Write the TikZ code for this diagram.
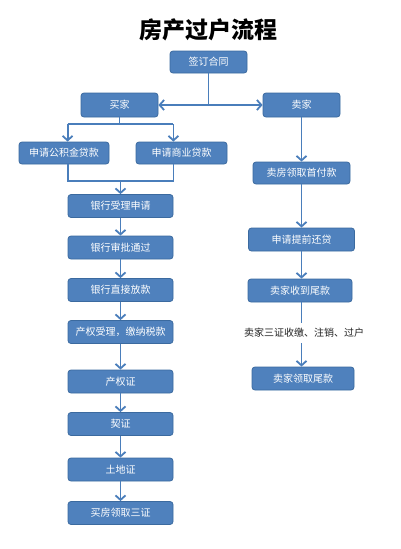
\documentclass[tikz,border=0pt]{standalone}
\usepackage{fontspec}
\newfontfamily\cjk{Noto Sans CJK SC}
\usetikzlibrary{arrows.meta}
\definecolor{boxfill}{HTML}{4F81BD}
\definecolor{boxborder}{HTML}{3B6A9F}
\definecolor{linecol}{HTML}{4A7EBB}
\definecolor{txtdark}{HTML}{222222}
\tikzset{
  flowbox/.style={draw=boxborder, fill=boxfill, rounded corners=3pt, text=white,
    font=\cjk\fontsize{10}{12}\selectfont, minimum height=23pt, inner sep=0pt, line width=0.8pt},
  conn/.style={draw=linecol, line width=1.8pt},
  arr/.style={conn, -{Straight Barb[length=4.5pt,width=10pt]}},
  darr/.style={conn, {Straight Barb[length=4.5pt,width=10pt]}-{Straight Barb[length=4.5pt,width=10pt]}},
}
\begin{document}
\begin{tikzpicture}[x=1pt,y=-1pt]
\useasboundingbox (0,0) rectangle (400,549);
\fill[white] (0,0) rectangle (400,549);

\node[font=\cjk\bfseries\fontsize{23}{26}\selectfont, text=black] (title) at (208,30) {房产过户流程};

\node[flowbox, minimum width=77pt, minimum height=22pt] (sign) at (208.5,62) {签订合同};
\node[flowbox, minimum width=77pt, minimum height=24pt] (buyer) at (119.5,105) {买家};
\node[flowbox, minimum width=77pt, minimum height=24pt] (seller) at (301.5,105) {卖家};

\node[flowbox, minimum width=90pt, minimum height=22pt] (gjj) at (64,153) {申请公积金贷款};
\node[flowbox, minimum width=91pt, minimum height=22pt] (sy) at (181.5,153) {申请商业贷款};

\node[flowbox, minimum width=105pt] (b1) at (120.5,206) {银行受理申请};
\node[flowbox, minimum width=105pt] (b2) at (120.5,247.5) {银行审批通过};
\node[flowbox, minimum width=105pt] (b3) at (120.5,290) {银行直接放款};
\node[flowbox, minimum width=105pt] (b4) at (120.5,332) {产权受理，缴纳税款};
\node[flowbox, minimum width=105pt] (b5) at (120.5,381.5) {产权证};
\node[flowbox, minimum width=105pt] (b6) at (120.5,424) {契证};
\node[flowbox, minimum width=105pt] (b7) at (120.5,469.5) {土地证};
\node[flowbox, minimum width=105pt] (b8) at (120.5,513) {买房领取三证};

\node[flowbox, minimum width=97pt, minimum height=22pt] (s1) at (301.5,173) {卖房领取首付款};
\node[flowbox, minimum width=106pt] (s2) at (301.5,239.5) {申请提前还贷};
\node[flowbox, minimum width=104pt] (s3) at (300,290.5) {卖家收到尾款};
\node[font=\cjk\fontsize{10}{12}\selectfont, text=txtdark, minimum height=20pt, inner sep=0pt] (note) at (304,333) {卖家三证收缴、注销、过户};
\node[flowbox, minimum width=102pt] (s4) at (303,378.5) {卖家领取尾款};

% top connections
\draw[darr] (buyer.east) -- (seller.west);
\draw[conn] (sign.south) -- (sign.south |- buyer.east);

% buyer split
\coordinate (bj) at (119.5,124);
\draw[conn] (buyer.south) -- (bj);
\draw[conn] (bj -| b1.west) -- (bj -| b1.east);
\draw[arr] (bj -| b1.west) -- (gjj.north -| b1.west);
\draw[arr] (bj -| b1.east) -- (sy.north -| b1.east);

% join
\coordinate (jn) at (120.5,181);
\draw[conn] (gjj.south -| b1.west) |- (jn);
\draw[conn] (sy.south -| b1.east) |- (jn);
\draw[arr] (jn) -- (b1.north);

% left chain
\draw[arr] (b1.south) -- (b2.north);
\draw[arr] (b2.south) -- (b3.north);
\draw[arr] (b3.south) -- (b4.north);
\draw[arr] (b4.south) -- (b5.north);
\draw[arr] (b5.south) -- (b6.north);
\draw[arr] (b6.south) -- (b7.north);
\draw[arr] (b7.south) -- (b8.north);

% right chain
\draw[arr] (seller.south) -- (seller.south |- s1.north);
\draw[arr] (s1.south) -- (seller.south |- s2.north);
\draw[arr] (s2.south) -- (seller.south |- s3.north);
\draw[conn] (seller.south |- s3.south) -- (seller.south |- note.north);
\draw[arr] (seller.south |- note.south) -- (seller.south |- s4.north);
\end{tikzpicture}
\end{document}
